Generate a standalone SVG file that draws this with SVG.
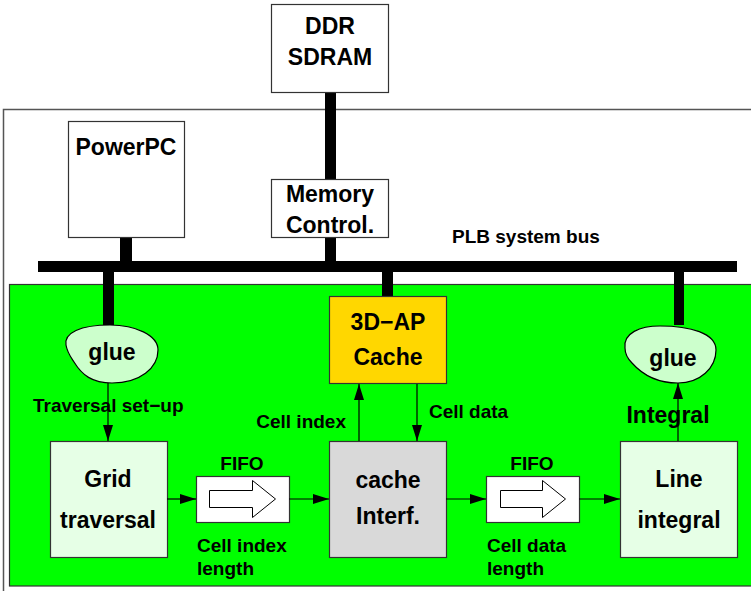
<svg xmlns="http://www.w3.org/2000/svg" width="751" height="591" viewBox="0 0 751 591">
  <defs>
    <style>
      .box { stroke: #333; stroke-width: 1.2; }
      .big { font-family: "Liberation Sans", Arial, sans-serif; font-weight: bold; font-size: 23px; fill: #000; text-anchor: middle; }
      .lbl { font-family: "Liberation Sans", Arial, sans-serif; font-weight: bold; font-size: 19px; fill: #000; }
      .bus { fill: #000; }
      .wire { stroke: #000; stroke-width: 1.2; fill: none; }
      .blob { fill: #ccffcc; stroke: #000; stroke-width: 1.2; }
      .hollow { fill: #fff; stroke: #000; stroke-width: 1; }
    </style>
    <marker id="ah" markerWidth="16" markerHeight="10" refX="16" refY="5" orient="auto" markerUnits="userSpaceOnUse">
      <path d="M0,0 L16,5 L0,10 Z" fill="#000"/>
    </marker>
  </defs>

  <rect width="751" height="591" fill="#fff"/>

  <!-- FPGA outline -->
  <path d="M753,109.5 H3.5 V595" fill="none" stroke="#555" stroke-width="1.5"/>
  <!-- user logic region -->
  <rect x="9.5" y="284.5" width="750" height="301.5" fill="#00ff00" stroke="#333" stroke-width="1.2"/>

  <!-- PLB bus and its taps -->
  <g id="plb-bus">
    <rect class="bus" x="38" y="261" width="699" height="11"/>
    <rect class="bus" x="325" y="92" width="11" height="88"/>
    <rect class="bus" x="325" y="237" width="11" height="25"/>
    <rect class="bus" x="120" y="237" width="12" height="25"/>
    <rect class="bus" x="103" y="271" width="11" height="54"/>
    <rect class="bus" x="382" y="271" width="11" height="25"/>
    <rect class="bus" x="674" y="271" width="10" height="54"/>
    <text class="lbl" x="452" y="243">PLB system bus</text>
  </g>

  <g id="ddr">
    <rect class="box" x="271.5" y="4.5" width="117" height="88" fill="#fff"/>
    <text class="big" x="330" y="34">DDR</text>
    <text class="big" x="330" y="65">SDRAM</text>
  </g>

  <g id="powerpc">
    <rect class="box" x="68.5" y="121.5" width="116" height="116" fill="#fff"/>
    <text class="big" x="126" y="155">PowerPC</text>
  </g>

  <g id="memctrl">
    <rect class="box" x="271.5" y="179.5" width="117" height="58" fill="#fff"/>
    <text class="big" x="330" y="202">Memory</text>
    <text class="big" x="330" y="233">Control.</text>
  </g>

  <g id="glue-left">
    <path class="blob" d="M66,345 C64,333 80,325 110,325 C135,325 158,335 158,350 C158,368 140,383 112,383 C92,383 82,375 74,362 C70,356 67,352 66,345 Z"/>
    <text class="big" x="112" y="360">glue</text>
  </g>

  <g id="glue-right">
    <path class="blob" d="M625,348 C623,333 640,326 660,326 C690,326 716,333 716,350 C716,368 700,383 678,383 C655,383 640,372 632,363 C627,358 625,354 625,348 Z"/>
    <text class="big" x="673" y="366">glue</text>
  </g>

  <g id="cache">
    <rect class="box" x="329.5" y="296.5" width="117" height="87" fill="#ffd700"/>
    <text class="big" x="388" y="330">3D−AP</text>
    <text class="big" x="388" y="365">Cache</text>
  </g>

  <g id="grid">
    <rect class="box" x="50.5" y="441.5" width="117" height="116" fill="#e6ffe6"/>
    <text class="big" x="108" y="487">Grid</text>
    <text class="big" x="108" y="528">traversal</text>
  </g>

  <g id="fifo1">
    <rect class="box" x="196.5" y="476.5" width="93" height="46" fill="#fff"/>
    <path class="hollow" d="M209.5,490.5 H252.5 V480.5 L275.5,499 L252.5,517.5 V507.5 H209.5 Z"/>
  </g>

  <g id="cache-interf">
    <rect class="box" x="329.5" y="441.5" width="117" height="116" fill="#d9d9d9"/>
    <text class="big" x="388" y="488">cache</text>
    <text class="big" x="388" y="524">Interf.</text>
  </g>

  <g id="fifo2">
    <rect class="box" x="486.5" y="476.5" width="93" height="46" fill="#fff"/>
    <path class="hollow" d="M500.5,490.5 H542.5 V480.5 L565.5,499 L542.5,517.5 V507.5 H500.5 Z"/>
  </g>

  <g id="line-integral">
    <rect class="box" x="620.5" y="441.5" width="117" height="116" fill="#e6ffe6"/>
    <text class="big" x="679" y="487">Line</text>
    <text class="big" x="679" y="528">integral</text>
  </g>

  <!-- data paths -->
  <g id="connectors">
    <line class="wire" x1="108" y1="383" x2="108" y2="441" marker-end="url(#ah)"/>
    <line class="wire" x1="167" y1="499" x2="196" y2="499" marker-end="url(#ah)"/>
    <line class="wire" x1="289" y1="499" x2="329" y2="499" marker-end="url(#ah)"/>
    <line class="wire" x1="359" y1="441" x2="359" y2="384" marker-end="url(#ah)"/>
    <line class="wire" x1="417" y1="384" x2="417" y2="441" marker-end="url(#ah)"/>
    <line class="wire" x1="446" y1="499" x2="486" y2="499" marker-end="url(#ah)"/>
    <line class="wire" x1="579" y1="499" x2="620" y2="499" marker-end="url(#ah)"/>
    <line class="wire" x1="678" y1="441" x2="678" y2="383" marker-end="url(#ah)"/>
  </g>

  <g id="labels">
    <text class="lbl" x="33" y="412">Traversal set−up</text>
    <text class="lbl" x="242" y="470" text-anchor="middle">FIFO</text>
    <text class="lbl" x="532" y="470" text-anchor="middle">FIFO</text>
    <text class="lbl" x="346" y="428" text-anchor="end">Cell index</text>
    <text class="lbl" x="429" y="418">Cell data</text>
    <text class="lbl" x="197" y="552">Cell index</text>
    <text class="lbl" x="197" y="575">length</text>
    <text class="lbl" x="487" y="552">Cell data</text>
    <text class="lbl" x="487" y="575">length</text>
    <text class="big" x="668" y="423">Integral</text>
  </g>
</svg>
